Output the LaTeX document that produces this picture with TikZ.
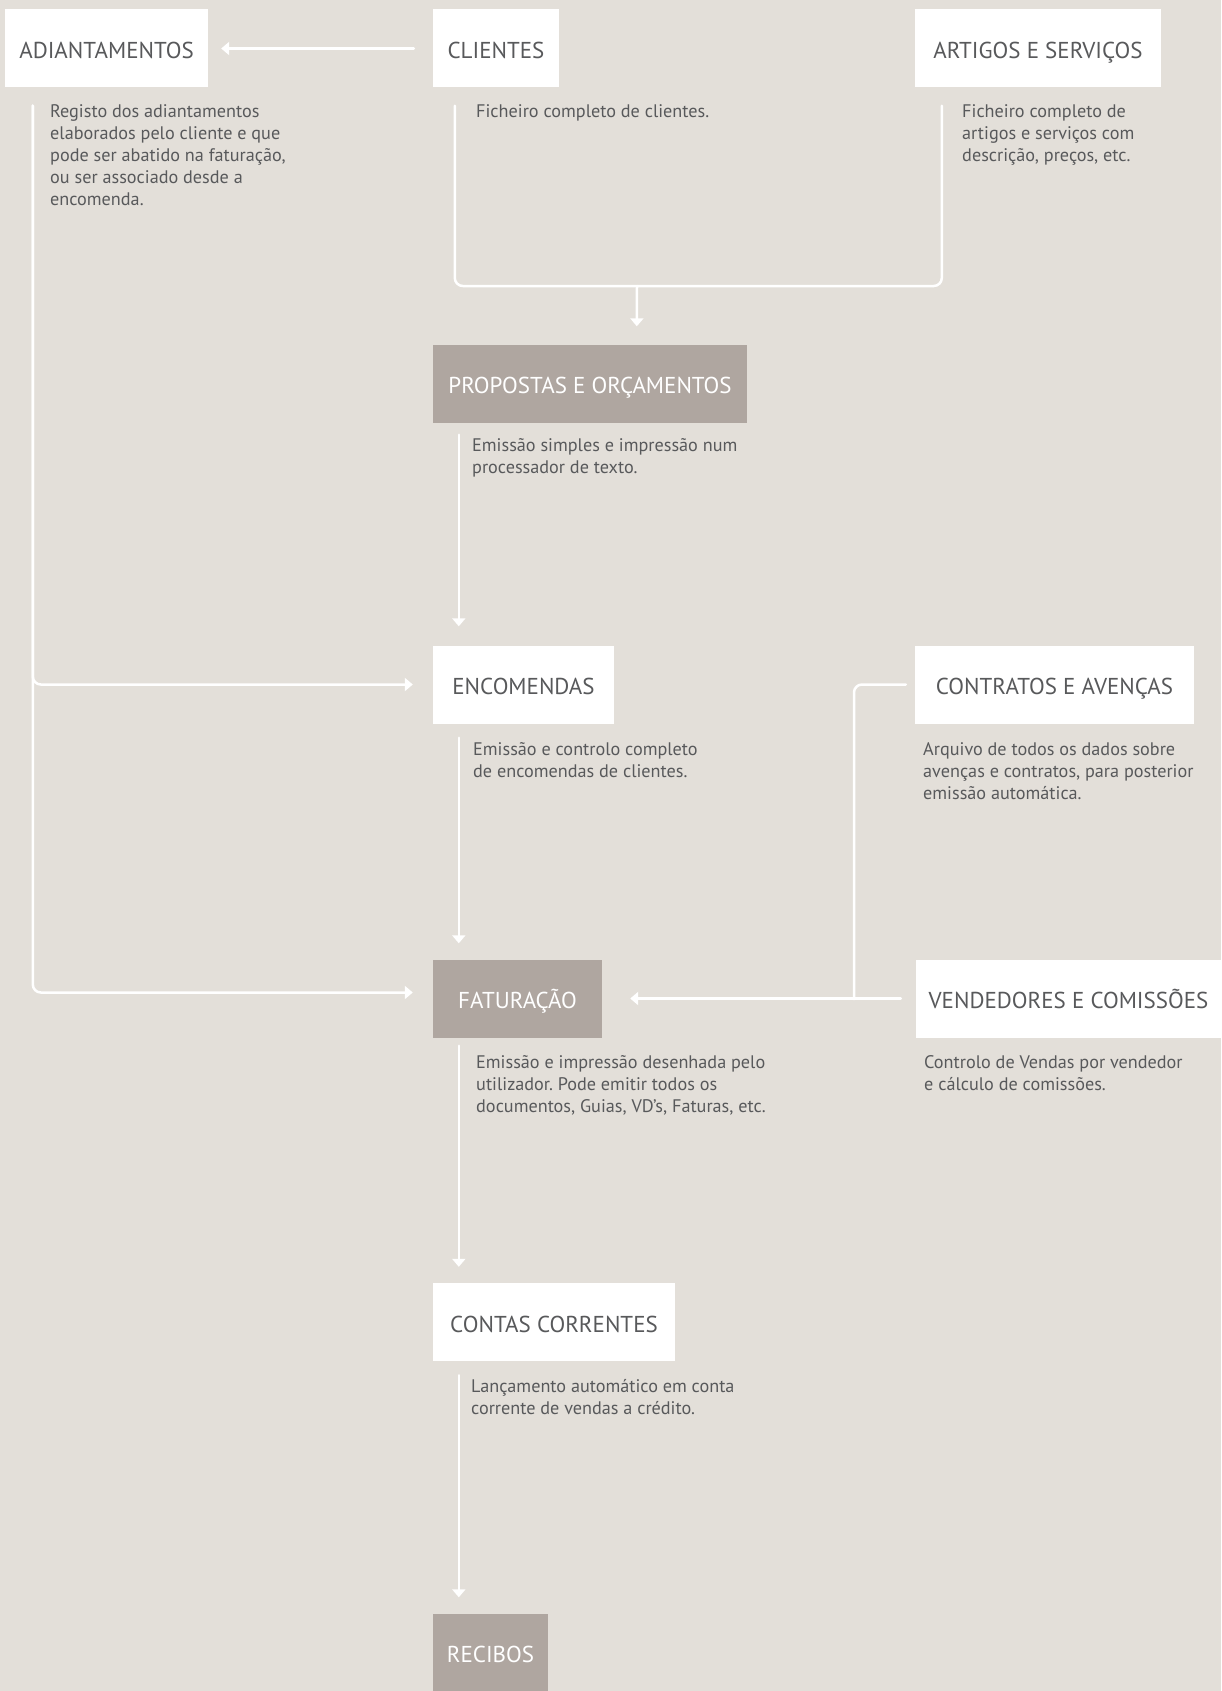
\documentclass[tikz,border=0pt]{standalone}
\usepackage{fontspec}
\setmainfont{PT Sans}
\usepackage{xcolor}
\usepackage{tikz}
\usetikzlibrary{calc}
\usetikzlibrary{arrows.meta}
\definecolor{eeddzz}{rgb}{0.890,0.875,0.851}
\definecolor{aaaa99}{rgb}{0.686,0.651,0.627}
\definecolor{uuuuvv}{rgb}{0.345,0.349,0.357}
\frenchspacing

\begin{document}
\begin{tikzpicture}[line cap=round,line join=round,>={Triangle[width=13pt,length=8pt]},x=1.0pt,y=-1.0pt,
    caixa/.style={fill=white,text=uuuuvv,inner sep=0pt,minimum height=78pt,text height=20pt,text depth=0pt,font=\fontsize{23}{27}\selectfont},
    caixacinza/.style={caixa,fill=aaaa99,text=white},
    nota/.style={anchor=north west,align=left,inner sep=0pt,text=uuuuvv,font=\fontsize{18.2}{22.2}\selectfont},
    fio/.style={draw=white,line width=2.5pt,rounded corners=8pt}]
                        \fill[color=eeddzz] (0,0) rectangle (1221,1691);
                        \useasboundingbox (0,0) rectangle (1221,1691);
                        % caixas
                        \node[caixa,minimum width=203pt] (adiant) at (106.5,48.5) {ADIANTAMENTOS};
                        \node[caixa,minimum width=126pt] (clientes) at (496,48.5) {CLIENTES};
                        \node[caixa,minimum width=246pt] (artigos) at (1038,48.5) {ARTIGOS E SERVIÇOS};
                        \node[caixacinza,minimum width=314pt] (propostas) at (590,383.5) {PROPOSTAS E ORÇAMENTOS};
                        \node[caixa,minimum width=181pt] (encomendas) at (523.5,684.5) {ENCOMENDAS};
                        \node[caixa,minimum width=279pt] (contratos) at (1054.5,684.5) {CONTRATOS E AVENÇAS};
                        \node[caixacinza,minimum width=169pt] (faturacao) at (517.5,998.5) {FATURAÇÃO};
                        \node[caixa,minimum width=305pt] (vendedores) at (1068.5,998.5) {VENDEDORES E COMISSÕES};
                        \node[caixa,minimum width=242pt] (contas) at (554,1322) {CONTAS CORRENTES};
                        \node[caixacinza,minimum width=115pt] (recibos) at (490.5,1652.5) {RECIBOS};
                        % textos
                        \node[nota] (nadiant) at (50,104) {Registo dos adiantamentos\\elaborados pelo cliente e que\\pode ser abatido na faturação,\\ou ser associado desde a\\encomenda.};
                        \node[nota] (nclientes) at (476,104) {Ficheiro completo de clientes.};
                        \node[nota] (nartigos) at (962,104) {Ficheiro completo de\\artigos e serviços com\\descrição, preços, etc.};
                        \node[nota] (npropostas) at (472,438) {Emissão simples e impressão num\\processador de texto.};
                        \node[nota] (nencomendas) at (473,742) {Emissão e controlo completo\\de encomendas de clientes.};
                        \node[nota] (ncontratos) at (923,742) {Arquivo de todos os dados sobre\\avenças e contratos, para posterior\\emissão automática.};
                        \node[nota] (nfaturacao) at (476,1055) {Emissão e impressão desenhada pelo\\utilizador. Pode emitir todos os\\documentos, Guias, VD’s, Faturas, etc.};
                        \node[nota] (nvendedores) at (924,1055) {Controlo de Vendas por vendedor\\e cálculo de comissões.};
                        \node[nota] (ncontas) at (471,1379) {Lançamento automático em conta\\corrente de vendas a crédito.};
                        % pontos das ligacoes
                        \coordinate (ladiant) at ($(adiant.south west)+(28,18)$);
                        \coordinate (lclientes) at ($(clientes.south west)+(22,18)$);
                        \coordinate (lartigos) at ($(artigos.south west)+(27,18)$);
                        \coordinate (juncao) at (637,286);
                        \coordinate (lcontratos) at (854,684);
                        % ligacoes
                        \draw [->,fio] ($(clientes.west)+(-19,0)$) -- ($(adiant.east)+(13,0)$);
                        \draw [->,fio] (ladiant) |- ($(encomendas.west)+(-20,0)$);
                        \draw [->,fio] (ladiant) |- ($(faturacao.west)+(-20,-6)$);
                        \draw [fio] (lclientes) |- (juncao) -| (lartigos);
                        \draw [->,fio] (juncao) -- ($(propostas.north west)+(204,-18)$);
                        \draw [->,fio] ($(propostas.south west)+(26,12)$) -- ($(encomendas.north west)+(26,-19)$);
                        \draw [->,fio] ($(encomendas.south west)+(26,14)$) -- ($(faturacao.north west)+(26,-16)$);
                        \draw [->,fio] ($(faturacao.south west)+(26,8)$) -- ($(contas.north west)+(26,-16)$);
                        \draw [->,fio] ($(contas.south west)+(26,14)$) -- ($(recibos.north west)+(26,-16)$);
                        \draw [fio] ($(contratos.west)+(-9,0)$) -| ($(lcontratos)+(0,315)$);
                        \draw [->,fio] ($(vendedores.west)+(-15,0)$) -- ($(faturacao.east)+(28,0)$);
                    \end{tikzpicture}
\end{document}
